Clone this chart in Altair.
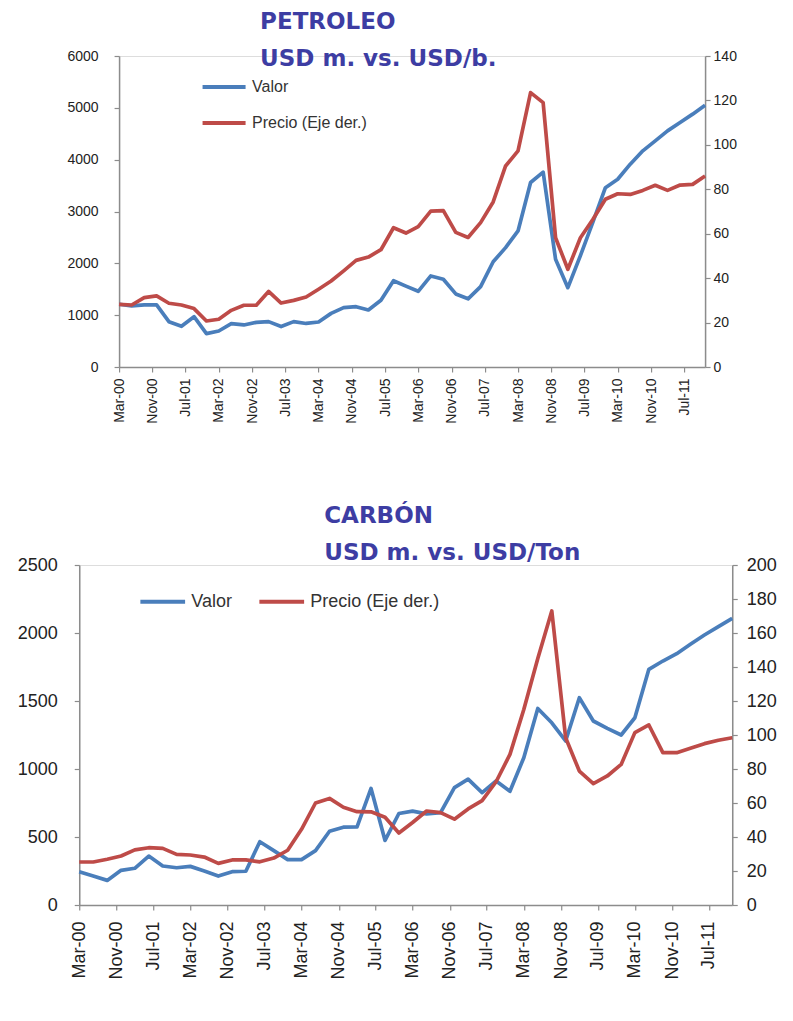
import altair as alt
import pandas as pd

# ---------------- data ----------------
years = list(range(2000, 2012))
quarter_months = [3, 6, 9, 12]
fechas = [f"{y}-{m:02d}-01" for y in years for m in quarter_months]

# PETROLEO: valor (USD m., left axis) and precio (USD/b., right axis)
pet_valor = [1210, 1180, 1200, 1200, 875, 785, 970, 645, 695, 836, 811, 860,
             875, 780, 875, 840, 868, 1035, 1145, 1164, 1100, 1287, 1665, 1560,
             1460, 1757, 1693, 1410, 1315, 1550, 2030, 2303, 2625, 3560, 3760, 2080,
             1530, 2150, 2800, 3460, 3623, 3913, 4170, 4363, 4556, 4717, 4878, 5051]
pet_precio = [28.2, 27.9, 31.2, 32.0, 28.7, 27.9, 26.3, 20.7, 21.5, 25.5, 27.8, 27.8,
              34.0, 28.8, 30.0, 31.5, 35.0, 38.7, 43.3, 48.0, 49.5, 52.8, 62.7, 60.3,
              63.2, 70.2, 70.4, 60.6, 58.3, 65.0, 74.3, 90.5, 97.3, 123.5, 119.0, 58.2,
              44.0, 58.2, 66.5, 75.5, 78.0, 77.7, 79.5, 81.8, 79.5, 81.9, 82.2, 86.0]

# CARBON: valor (USD m., left axis) and precio (USD/Ton, right axis)
car_valor = [245, 213, 181, 255, 270, 360, 287, 274, 284, 250, 213, 245,
             248, 465, 400, 334, 334, 400, 542, 572, 575, 857, 475, 673,
             690, 670, 679, 863, 925, 826, 912, 836, 1083, 1445, 1340, 1206,
             1524, 1353, 1299, 1250, 1377, 1733, 1794, 1848, 1917, 1985, 2047, 2108]
car_precio = [25.3, 25.3, 26.9, 28.8, 32.4, 33.7, 33.3, 29.8, 29.4, 28.2, 24.5, 26.5,
              26.5, 25.4, 27.6, 32.2, 44.5, 60.0, 62.7, 57.5, 54.9, 54.8, 51.6, 42.3,
              48.5, 55.3, 54.3, 50.5, 56.5, 61.4, 72.5, 88.6, 115.0, 145.0, 173.0, 98.4,
              78.8, 71.4, 75.9, 82.7, 101.4, 105.9, 89.6, 89.6, 92.2, 94.9, 96.9, 98.4]

tick_labels = ["Mar-00", "Nov-00", "Jul-01", "Mar-02", "Nov-02", "Jul-03", "Mar-04",
               "Nov-04", "Jul-05", "Mar-06", "Nov-06", "Jul-07", "Mar-08", "Nov-08",
               "Jul-09", "Mar-10", "Nov-10", "Jul-11"]

series_names = ["Valor", "Precio (Eje der.)"]

# ---------------- style ----------------
BLUE = "#4A7EBB"
RED = "#BE4B48"
TITLE_COLOR = "#3D3DA3"
AXIS_GRAY = "#8C8C8C"
FONT = "Liberation Sans"

month_num = {"Jan": 1, "Feb": 2, "Mar": 3, "Apr": 4, "May": 5, "Jun": 6, "Jul": 7,
             "Aug": 8, "Sep": 9, "Oct": 10, "Nov": 11, "Dec": 12}
tick_values = [alt.DateTime(year=2000 + int(t[-2:]), month=month_num[t[:3]], date=1)
               for t in tick_labels]
x_domain = [alt.DateTime(year=2000, month=3, date=1), alt.DateTime(year=2011, month=12, date=1)]


def axis_common(font_size):
    return dict(labelFontSize=font_size, labelFont=FONT, labelColor="#222",
                tickSize=5, domainColor=AXIS_GRAY, tickColor=AXIS_GRAY,
                domainWidth=1.5, tickWidth=1.2, grid=False)


def panel(valor, precio, lmax, lstep, rmax, rstep, w, h, title_lines, title_dx,
          title_offset, font_size, pads, legend):
    n = len(fechas)
    assert len(valor) == n and len(precio) == n
    df = pd.DataFrame({
        "fecha": fechas * 2,
        "serie": [series_names[0]] * n + [series_names[1]] * n,
        "v": valor + precio,
    })
    x = alt.X("fecha:T", title=None,
              scale=alt.Scale(domain=x_domain),
              axis=alt.Axis(values=tick_values, format="%b-%y", labelAngle=270,
                            labelPadding=pads[0], **axis_common(font_size)))
    color = alt.Color("serie:N", scale=alt.Scale(domain=series_names, range=[BLUE, RED]),
                      legend=legend)
    base = alt.Chart(df).encode(x=x, color=color)
    left = base.transform_filter(alt.datum.serie == series_names[0]).mark_line(
        strokeWidth=3.7, strokeJoin="round").encode(
        y=alt.Y("v:Q", title=None, scale=alt.Scale(domain=[0, lmax], nice=False),
                axis=alt.Axis(orient="left", values=list(range(0, lmax + 1, lstep)),
                              format="d", labelPadding=pads[1], **axis_common(font_size))))
    right = base.transform_filter(alt.datum.serie == series_names[1]).mark_line(
        strokeWidth=3.7, strokeJoin="round").encode(
        y=alt.Y("v:Q", title=None, scale=alt.Scale(domain=[0, rmax], nice=False),
                axis=alt.Axis(orient="right", values=list(range(0, rmax + 1, rstep)),
                              format="d", labelPadding=pads[2], **axis_common(font_size))))
    return alt.layer(left, right).resolve_scale(y="independent").properties(
        width=w, height=h,
        title=alt.Title(title_lines, anchor="start", frame="group", dx=title_dx,
                        offset=title_offset, font="DejaVu Sans", fontSize=23,
                        fontWeight="bold", color=TITLE_COLOR, lineHeight=37),
    )


legend_top = alt.Legend(title=None, orient="none", legendX=81, legendY=7,
                        direction="vertical", symbolType="stroke", symbolSize=1850,
                        symbolStrokeWidth=4, labelFontSize=16, labelFont=FONT,
                        labelColor="#333", rowPadding=4, labelOffset=4)
legend_bottom = alt.Legend(title=None, orient="none", legendX=59, legendY=12,
                           direction="horizontal", symbolType="stroke", symbolSize=2000,
                           symbolStrokeWidth=4, labelFontSize=18, labelFont=FONT,
                           labelColor="#333", columnPadding=19, labelOffset=4)

top = panel(pet_valor, pet_precio, 6000, 1000, 140, 20, 586, 311,
            ["PETROLEO", "USD m. vs. USD/b."], 141, -22, 14, (6, 16, 3), legend_top)
bottom = panel(car_valor, car_precio, 2500, 500, 200, 20, 653, 340,
               ["CARBÓN", "USD  m. vs. USD/Ton"], 245, -9, 18, (11, 17, 9), legend_bottom)

chart = alt.vconcat(top, bottom, spacing=80, center=True).resolve_scale(
    color="independent").resolve_legend(color="independent").properties(
    padding={"left": 8, "top": 2, "right": 5, "bottom": 5}
).configure_view(stroke=None).configure(background="white")

chart.save("out.html", embed_options={"renderer": "svg", "actions": False})
